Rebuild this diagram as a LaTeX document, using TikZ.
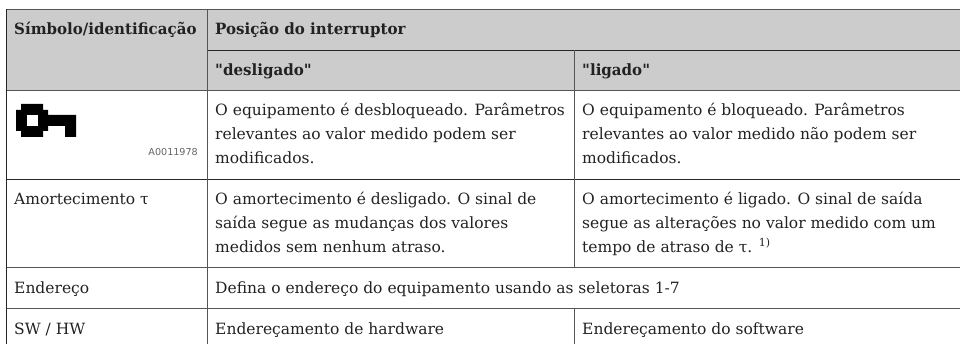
\documentclass[tikz,border=0pt]{standalone}
\usepackage{fontspec}
\newfontfamily\tb{DejaVu Serif}[BoldFeatures={FakeStretch=0.97}]
\newfontfamily\smallsans{DejaVu Sans}
\definecolor{hd}{HTML}{CCCCCC}
\definecolor{ln}{HTML}{555555}
\definecolor{tx}{HTML}{222222}
\tikzset{
 cell/.style={anchor=base west,inner sep=0pt,text=tx,font=\tb\fontsize{15.5}{18}\selectfont},
 hcell/.style={cell,font=\tb\fontsize{15.5}{18}\selectfont\bfseries},
 rule/.style={draw=ln,line width=1pt},
 darkrule/.style={draw=black!85,line width=1pt}
}
\begin{document}
\begin{tikzpicture}[x=1pt,y=-1pt]
\useasboundingbox (0,0) rectangle (960,344);
\fill[hd] (6,9.5) rectangle (960,90.5);
\draw[rule] (6,9.5) -- (960,9.5);
\draw[darkrule] (207,50.5) -- (960,50.5);
\draw[rule] (6,90.5) -- (960,90.5);
\draw[darkrule] (6,179.5) -- (960,179.5);
\draw[rule] (6,268) -- (960,268);
\draw[rule] (6,308) -- (960,308);
\draw[darkrule] (6,9.5) -- (6,344);
\draw[rule] (207,9.5) -- (207,344);
\draw[rule] (574,50.5) -- (574,268);
\draw[rule] (574,308) -- (574,344);
\node[hcell] (a1) at (14,35) {Símbolo/identificação};
\node[hcell] (a2) at (215,35) {Posição do interruptor};
\node[hcell] (b1) at (215,75.5) {"desligado"};
\node[hcell] (b2) at (582,75.5) {"ligado"};
\fill[black] (16,110) rectangle (21,131) (21,104) rectangle (43,137) (43,110) rectangle (48,131) (43,115) rectangle (76,126) (65,115) rectangle (76,137);
\fill[white] (27,115) rectangle (38,126);
\node[anchor=base east,inner sep=0pt,text=black!60,font=\smallsans\fontsize{9.6}{11}\selectfont] (id) at (198,155.5) {A0011978};
\node[cell] (c1) at (215,116) {O equipamento é desbloqueado. Parâmetros};
\node[cell] (c2) at (215,140) {relevantes ao valor medido podem ser};
\node[cell] (c3) at (215,164) {modificados.};
\node[cell] (d1) at (582,116) {O equipamento é bloqueado. Parâmetros};
\node[cell] (d2) at (582,140) {relevantes ao valor medido não podem ser};
\node[cell] (d3) at (582,164) {modificados.};
\node[cell] (e0) at (14,204.5) {Amortecimento τ};
\node[cell] (e1) at (215,204.5) {O amortecimento é desligado. O sinal de};
\node[cell] (e2) at (215,228.5) {saída segue as mudanças dos valores};
\node[cell] (e3) at (215,252.5) {medidos sem nenhum atraso.};
\node[cell] (f1) at (582,204.5) {O amortecimento é ligado. O sinal de saída};
\node[cell] (f2) at (582,228.5) {segue as alterações no valor medido com um};
\node[cell] (f3) at (582,252.5) {tempo de atraso de τ. \raisebox{6pt}{\fontsize{11}{12}\selectfont 1)}};
\node[cell] (g0) at (14,293.5) {Endereço};
\node[cell] (g1) at (215,293.5) {Defina o endereço do equipamento usando as seletoras 1-7};
\node[cell] (h0) at (14,334) {SW / HW};
\node[cell] (h1) at (215,334) {Endereçamento de hardware};
\node[cell] (h2) at (582,334) {Endereçamento do software};
\end{tikzpicture}
\end{document}
